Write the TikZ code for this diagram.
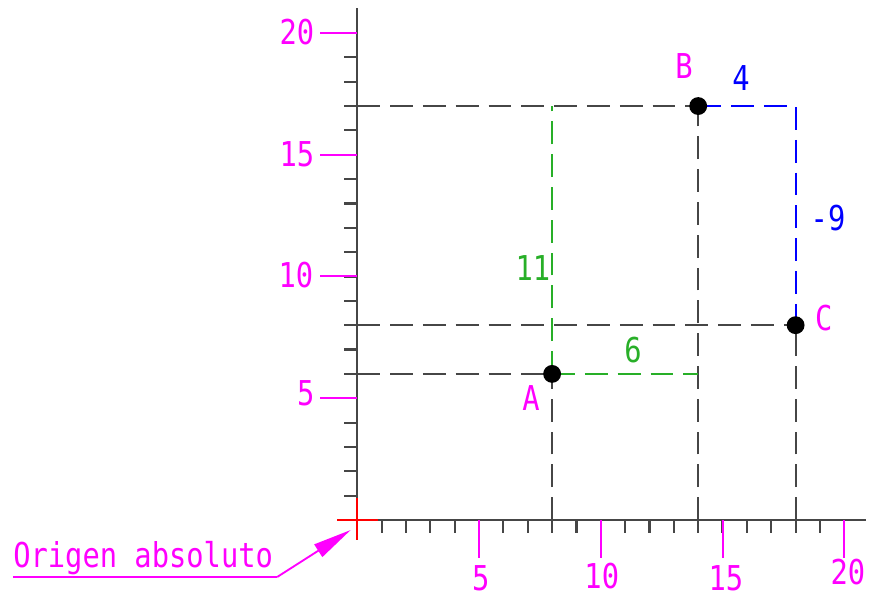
\documentclass[tikz,border=0pt]{standalone}
\usepackage{fontspec}
\usepackage{tikz}
\usetikzlibrary{arrows.meta, positioning}
\newfontfamily\cadfont{DejaVu Sans Mono}[FakeStretch=0.84]
\definecolor{mygray}{RGB}{70,70,70}
\definecolor{mymagenta}{RGB}{255,0,255}
\definecolor{mygreen}{RGB}{40,175,40}
\definecolor{myblue}{RGB}{0,0,255}
\definecolor{myred}{RGB}{255,0,0}
\tikzset{
  axisline/.style={line width=1.6pt, color=mygray},
  minortick/.style={line width=1.5pt, color=mygray},
  majortick/.style={line width=1.4pt, color=mymagenta},
  dimline/.style={line width=1.4pt, dash pattern=on 16pt off 7pt},
  pointdot/.style={circle, fill=black, inner sep=0pt, minimum size=0.44cm},
  cadlabel/.style={font=\cadfont\fontsize{24}{28}\selectfont, inner sep=0pt},
  leader/.style={-{Triangle[length=0.95cm, width=0.36cm]}, line width=1.3pt, color=mymagenta}
}

\begin{document}
\begin{tikzpicture}[x=0.6cm, y=0.6cm]
  \useasboundingbox (-14.674,-3.162) rectangle (21.014,21.355);

  % Points and their projections on the axes
  \coordinate (O) at (0,0);
  \coordinate (a) at (8,6);
  \coordinate (b) at (14,17);
  \coordinate (c) at (18,8);
  \coordinate (ax) at (8,0);   \coordinate (ay) at (0,6);
  \coordinate (bx) at (14,0);  \coordinate (by) at (0,17);
  \coordinate (cx) at (18,0);  \coordinate (cy) at (0,8);
  \coordinate (a11) at (8,17); \coordinate (a6) at (14,6);
  \coordinate (b4) at (18,17);

  % Draw axes
  \draw[axisline] (0.86,0) -- (20.9,0);
  \draw[axisline] (0,0.9) -- (0,21.03);
  \draw[line width=1.4pt, color=myred] (-0.82,0) -- (0.86,0);
  \draw[line width=1.4pt, color=myred] (0,-0.82) -- (0,0.9);

  % Ticks
  \foreach \i in {1,...,20} {
    \draw[minortick] (\i,0) -- (\i,-0.53);
    \draw[minortick] (0,\i) -- (-0.56,\i);
  }
  \foreach \i in {5,10,15,20} {
    \draw[majortick] (\i,0) -- (\i,-1.55);
    \draw[majortick] (0,\i) -- (-1.52,\i);
  }

  % Axis labels
  \node[cadlabel, text=mymagenta] (xl5) at (5.07,-2.38) {5};
  \node[cadlabel, text=mymagenta] (xl10) at (10.04,-2.3) {10};
  \node[cadlabel, text=mymagenta] (xl15) at (15.14,-2.38) {15};
  \node[cadlabel, text=mymagenta] (xl20) at (20.15,-2.14) {20};
  \node[cadlabel, text=mymagenta] (yl5) at (-2.12,5.2) {5};
  \node[cadlabel, text=mymagenta] (yl10) at (-2.52,10.06) {10};
  \node[cadlabel, text=mymagenta] (yl15) at (-2.48,15.0) {15};
  \node[cadlabel, text=mymagenta] (yl20) at (-2.48,20.04) {20};

  % Projection lines
  \draw[dimline, color=mygray] (ay) -- (a);
  \draw[dimline, color=mygray] (ax) -- (a);
  \draw[dimline, color=mygray] (by) -- (b);
  \draw[dimline, color=mygray] (bx) -- (b);
  \draw[dimline, color=mygray] (cy) -- (c);
  \draw[dimline, color=mygray] (cx) -- (c);

  % Relative displacements
  \draw[dimline, color=mygreen] (a) -- (a11);
  \draw[dimline, color=mygreen] (a) -- (a6);
  \draw[dimline, color=myblue] (b) -- (b4) -- (c);
  \node[cadlabel, text=mygreen] (d11) at (7.21,10.35) {11};
  \node[cadlabel, text=mygreen] (d6) at (11.32,6.98) {6};
  \node[cadlabel, text=myblue] (d4) at (15.76,18.15) {4};
  \node[cadlabel, text=myblue] (d9) at (19.33,12.4) {-9};

  % Points
  \node[pointdot] (A) at (a) {};
  \node[pointdot] (B) at (b) {};
  \node[pointdot] (C) at (c) {};
  \node[cadlabel, text=mymagenta] (labA) at (7.13,5.01) {A};
  \node[cadlabel, text=mymagenta] (labB) at (13.42,18.64) {B};
  \node[cadlabel, text=mymagenta] (labC) at (19.16,8.3) {C};

  % Origin callout
  \node[cadlabel, text=mymagenta, anchor=base west] (orig) at (-14.14,-1.97) {Origen absoluto};
  \coordinate (ul0) at (-14.14,-2.34);
  \coordinate (ul1) at (-3.29,-2.34);
  \coordinate (tip) at (-0.27,-0.41);
  \draw[line width=1.3pt, color=mymagenta] (ul0) -- (ul1);
  \draw[leader] (ul1) -- (tip);
\end{tikzpicture}
\end{document}
